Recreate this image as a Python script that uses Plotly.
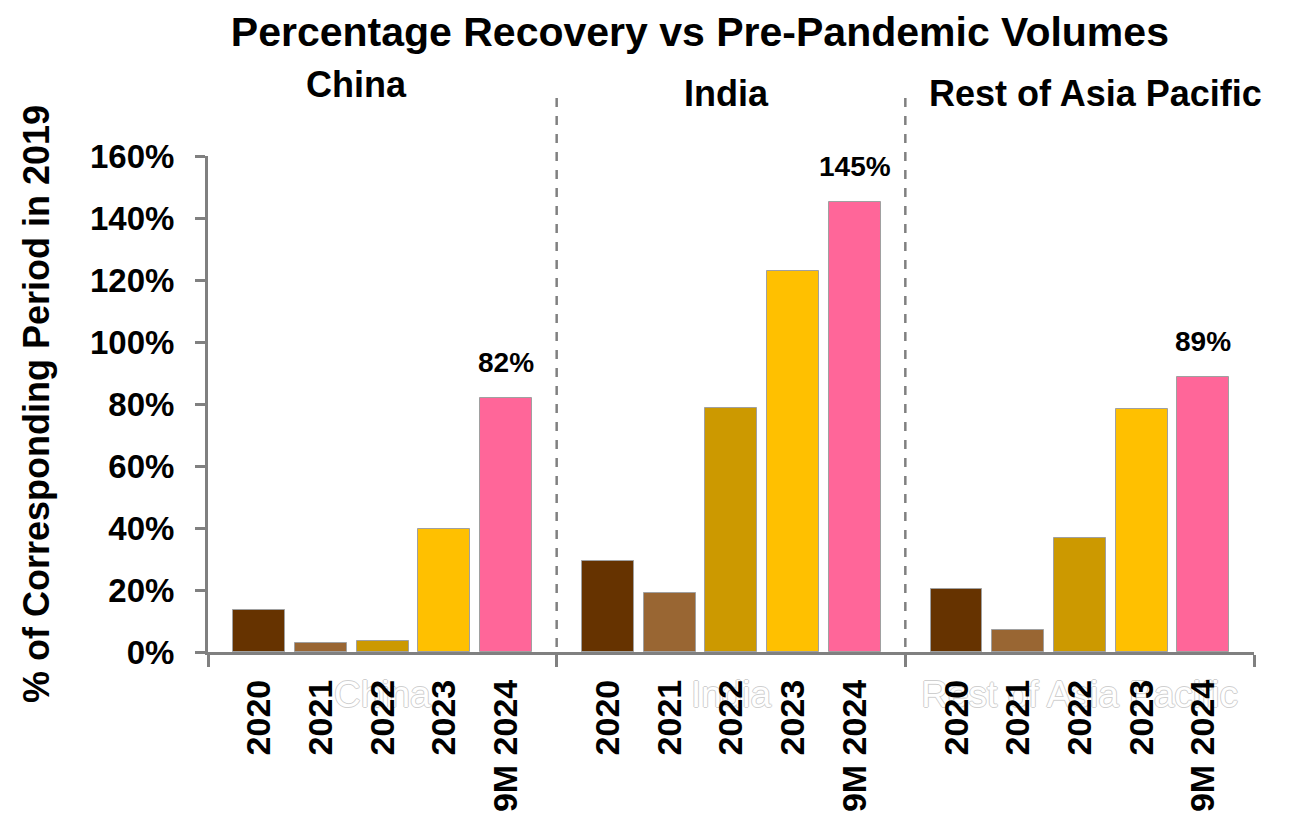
import plotly.graph_objects as go

# ── DATA ──────────────────────────────────────────────────────────
regions = ["China", "India", "Rest of Asia Pacific"]
periods = ["2020", "2021", "2022", "2023", "9M 2024"]
period_colors = ["#663300", "#996633", "#CC9900", "#FFC000", "#FF6699"]

recovery = {
    "China": [13.5, 3.0, 3.5, 39.7, 82.0],
    "India": [29.4, 19.0, 78.7, 123.0, 145.3],
    "Rest of Asia Pacific": [20.3, 7.0, 36.8, 78.4, 88.7],
}
# only the latest period is labelled
labels = {
    "China": ["", "", "", "", "82%"],
    "India": ["", "", "", "", "145%"],
    "Rest of Asia Pacific": ["", "", "", "", "89%"],
}
y_ticks = [0, 20, 40, 60, 80, 100, 120, 140, 160]

# ── GEOMETRY ──────────────────────────────────────────────────────
GROUP_W = 5.65      # width of one region block, in bar slots
PAD = 0.83          # space before first bar of a block
BAR_W = 0.84
FONT = "Liberation Sans, Arial, sans-serif"
GREY = "#808080"

# region title placement (paper coords) – titles sit a bit off-centre
title_x = [0.142, 0.496, 0.848]
title_y = [1.145, 1.127, 1.127]

fig = go.Figure()

tick_pos, tick_txt = [], []
for g, reg in enumerate(regions):
    xs = [g * GROUP_W + i for i in range(len(periods))]
    tick_pos += xs
    tick_txt += periods
    fig.add_trace(go.Bar(
        x=xs,
        y=recovery[reg],
        width=BAR_W,
        marker=dict(color=period_colors, line=dict(color="#A0A0A0", width=1)),
        showlegend=False,
        hoverinfo="skip",
    ))
    for x, v, lab in zip(xs, recovery[reg], labels[reg]):
        if lab:
            fig.add_annotation(x=x, y=v, text=lab, showarrow=False,
                               yanchor="bottom", yshift=18,
                               font=dict(family=FONT, size=28, color="black",
                                         weight="bold"))

bounds = [-PAD + g * GROUP_W for g in range(len(regions) + 1)]
x_range = [bounds[0], bounds[-1]]
centres = [(bounds[g] + bounds[g + 1]) / 2 for g in range(len(regions))]

# invisible trace to anchor the overlaid year-label axis
fig.add_trace(go.Scatter(x=tick_pos, y=[0] * len(tick_pos), xaxis="x2",
                         mode="markers", marker=dict(opacity=0),
                         showlegend=False, hoverinfo="skip"))

# dashed separators between regions
for b in bounds[1:-1]:
    fig.add_shape(type="line", xref="x", yref="paper", x0=b, x1=b,
                  y0=-0.026, y1=1.119,
                  line=dict(color=GREY, width=2.5, dash="dash"))

for g, reg in enumerate(regions):
    fig.add_annotation(x=title_x[g], y=title_y[g], xref="paper", yref="paper",
                       text=reg, showarrow=False, xanchor="center", yanchor="middle",
                       font=dict(family=FONT, size=36, color="black", weight="bold"))

fig.update_layout(
    title=dict(text="Percentage Recovery vs Pre-Pandemic Volumes",
               x=0.538, xanchor="center", y=0.972, yanchor="middle",
               font=dict(family=FONT, size=41, color="black", weight="bold")),
    width=1286, height=832,
    margin=dict(l=200, r=40, t=148, b=188),
    plot_bgcolor="white",
    paper_bgcolor="white",
    bargap=0,
    # main axis: faint ghost region names + boundary tick marks
    xaxis=dict(
        range=x_range,
        tickvals=centres,
        ticktext=regions,
        ticks="",
        ticklabelstandoff=8,
        tickfont=dict(family=FONT, size=37, color="white",
                      shadow="-1px 0 #cfcfcf, 1px 0 #cfcfcf, 0 -1px #cfcfcf, 0 1px #cfcfcf"),
        minor=dict(tickvals=bounds, ticks="outside", ticklen=12,
                   tickwidth=3, tickcolor=GREY, showgrid=False),
        showline=True, linecolor=GREY, linewidth=3,
        showgrid=False, zeroline=False, automargin=False,
    ),
    # overlaid axis: year labels drawn above the ghost names
    xaxis2=dict(
        overlaying="x",
        range=x_range,
        tickvals=tick_pos,
        ticktext=tick_txt,
        tickangle=-90,
        ticks="",
        ticklabelstandoff=20,
        tickfont=dict(family=FONT, size=34, color="black", weight="bold"),
        showgrid=False, zeroline=False, showline=False,
        side="bottom", automargin=False,
    ),
    yaxis=dict(
        range=[0, 160],
        tickvals=y_ticks,
        ticktext=[f"{v}%" for v in y_ticks],
        ticks="outside", ticklen=10, tickwidth=3, tickcolor=GREY,
        ticklabelstandoff=14,
        tickfont=dict(family=FONT, size=33, color="black", weight="bold"),
        showline=True, linecolor=GREY, linewidth=3,
        showgrid=False, zeroline=False, automargin=False,
        title=dict(text="% of Corresponding Period in 2019", standoff=30,
                   font=dict(family=FONT, size=36, color="black", weight="bold")),
    ),
)

fig.write_html("out.html")
